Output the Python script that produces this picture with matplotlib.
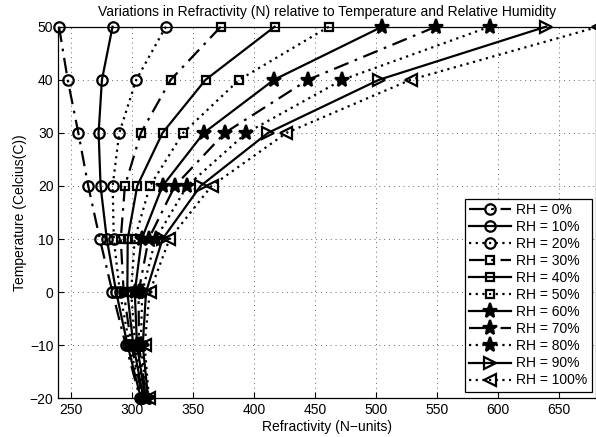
import matplotlib
matplotlib.use("Agg")
import matplotlib.pyplot as plt

plt.rcParams['font.family'] = ['Liberation Sans', 'DejaVu Sans']

temperatures = [50, 40, 30, 20, 10, 0, -10, -20]

rh0   = [240.6, 247.7, 256.4, 264.5, 274.0, 284.3, 295.2, 306.9]
rh10  = [284.4, 275.7, 273.0, 274.6, 279.7, 287.4, 296.7, 307.6]
rh20  = [328.0, 303.8, 289.9, 284.5, 285.4, 290.4, 298.3, 308.4]
rh30  = [373.0, 332.0, 307.6, 294.5, 291.1, 293.5, 299.8, 309.1]
rh40  = [417.0, 360.5, 325.3, 304.6, 296.8, 296.5, 301.4, 309.8]
rh50  = [461.4, 388.0, 342.2, 315.0, 302.5, 299.6, 302.9, 310.6]
rh60  = [505.0, 416.5, 359.1, 325.3, 308.2, 302.6, 304.4, 311.3]
rh70  = [549.0, 444.3, 376.3, 335.4, 313.9, 305.7, 306.0, 312.0]
rh80  = [593.0, 472.4, 394.0, 345.4, 319.6, 308.7, 307.5, 312.7]
rh90  = [639.0, 502.4, 411.6, 356.4, 325.3, 311.8, 309.1, 313.5]
rh100 = [682.0, 528.3, 426.7, 365.4, 331.0, 314.8, 310.6, 314.2]

labels = ['RH = 0%', 'RH = 10%', 'RH = 20%', 'RH = 30%', 'RH = 40%', 'RH = 50%',
          'RH = 60%', 'RH = 70%', 'RH = 80%', 'RH = 90%', 'RH = 100%']
series = [rh0, rh10, rh20, rh30, rh40, rh50, rh60, rh70, rh80, rh90, rh100]

x_ticks = [250, 300, 350, 400, 450, 500, 550, 600, 650]
y_ticks = [-20, -10, 0, 10, 20, 30, 40, 50]

dashdot = (0, (7, 3, 1.2, 3))
dotted = (0, (1, 2))
styles = [
    dict(ls=dashdot, marker='o', ms=7.5, mfc='none'),
    dict(ls='-', marker='o', ms=7.5, mfc='none'),
    dict(ls=dotted, marker='o', ms=7.5, mfc='none'),
    dict(ls=dashdot, marker='s', ms=5.5, mfc='none'),
    dict(ls='-', marker='s', ms=5.5, mfc='none'),
    dict(ls=dotted, marker='s', ms=5.5, mfc='none'),
    dict(ls='-', marker='*', ms=11, mfc='black'),
    dict(ls=dashdot, marker='*', ms=11, mfc='black'),
    dict(ls=dotted, marker='*', ms=11, mfc='black'),
    dict(ls='-', marker='>', ms=8, mfc='none'),
    dict(ls=dotted, marker='<', ms=8, mfc='none'),
]

fig = plt.figure(figsize=(5.96, 4.37), dpi=100)
ax = fig.add_axes([0.0978, 0.0886, 0.9022, 0.8503])

for vals, lab, st in zip(series, labels, styles):
    ax.plot(vals, temperatures, color='black', lw=1.6, linestyle=st['ls'],
            marker=st['marker'], markersize=st['ms'], markerfacecolor=st['mfc'],
            markeredgecolor='black', markeredgewidth=1.6, label=lab,
            clip_on=False, zorder=3)

ax.set_xlim(240, 680)
ax.set_ylim(-20, 50)
ax.set_xticks(x_ticks)
ax.set_yticks(y_ticks)
ax.set_xticklabels([str(v) for v in x_ticks])
ax.set_yticklabels([str(v).replace('-', '\u2212') for v in y_ticks])
ax.tick_params(direction='in', length=4, width=0.8, labelsize=10, colors='black')
ax.grid(True, color='#666666', linestyle=(0, (1, 4)), linewidth=0.7)
for s in ax.spines.values():
    s.set_color('black')
    s.set_linewidth(0.9)

ax.set_title('Variations in Refractivity (N) relative to Temperature and Relative Humidity',
             fontsize=10, pad=8)
ax.set_xlabel('Refractivity (N\u2212units)', fontsize=10, labelpad=2)
ax.set_ylabel('Temperature (Celcius(C))', fontsize=10, labelpad=2)

leg = ax.legend(loc='lower right', bbox_to_anchor=(0.992, 0.018), fontsize=10,
                frameon=True, fancybox=False, framealpha=1, edgecolor='black',
                handlelength=3.0, handletextpad=0.4, labelspacing=0.22,
                borderpad=0.3, borderaxespad=0.0)
leg.get_frame().set_linewidth(0.9)
leg.set_zorder(5)

fig.savefig('out.png', dpi=100)
